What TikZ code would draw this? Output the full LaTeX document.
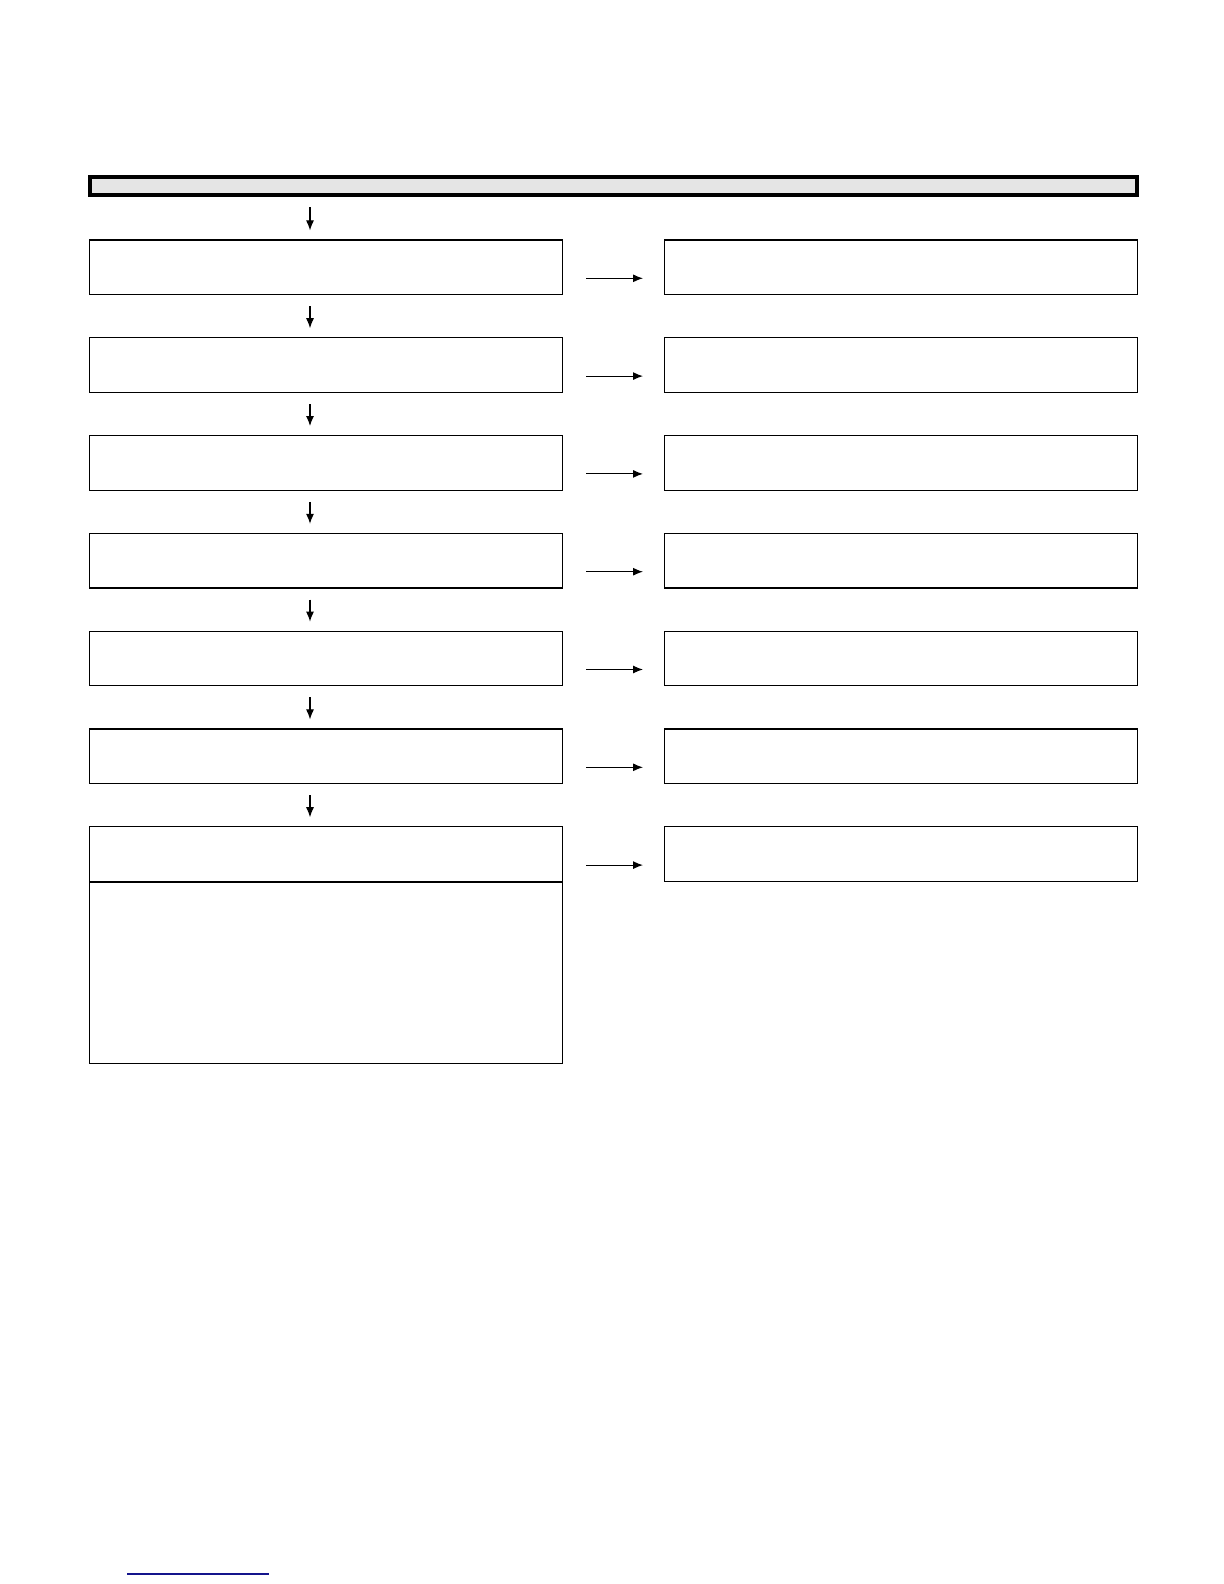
\documentclass[tikz,border=0pt]{standalone}
\usetikzlibrary{arrows.meta}
\begin{document}
\begin{tikzpicture}[x=0.5pt,y=-0.5pt,
  stepbox/.style={draw=black,line width=0.6pt,minimum width=236.5pt,minimum height=27.3pt,inner sep=0pt,anchor=north west},
  flow/.style={draw=black,line width=0.55pt,-{Latex[length=5pt,width=4pt]}}]
\useasboundingbox (0,0) rectangle (1224,1584);
\fill[white] (0,0) rectangle (1224,1584);
% header bar
\node[draw=black,fill=black!10,line width=2pt,minimum width=523.5pt,minimum height=9pt,inner sep=0pt,anchor=north west] (hdr) at (88,174.5) {};
% boxes
\foreach \i/\y in {1/239.4,2/337.2,3/435,4/532.8,5/630.6,6/728.4,7/826.2}{
  \node[stepbox] (L\i) at (89,\y) {};
  \node[stepbox] (R\i) at (664,\y) {};
}
% extension of last left box
\node[draw=black,line width=0.6pt,minimum width=236.5pt,minimum height=90.5pt,inner sep=0pt,anchor=north] (L7x) at (L7.south) {};
% down arrows
\coordinate (d0) at (310,207);
\draw[flow] (d0) -- ([yshift=4.5pt]d0 |- L1.north);
\foreach \a/\b in {1/2,2/3,3/4,4/5,5/6,6/7}{
  \draw[flow] ([yshift=-5.5pt]L\a.south -| d0) -- ([yshift=4.5pt]L\b.north -| d0);
}
% right arrows
\foreach \i in {1,...,7}{
  \draw[flow] ([xshift=11.5pt,yshift=-5.5pt]L\i.east) -- ([xshift=-10.5pt,yshift=-5.5pt]R\i.west);
}
% bottom blue rule
\coordinate (b1) at (127,1574);
\coordinate (b2) at (269,1574);
\draw[draw={rgb,255:red,20;green,20;blue,140},line width=0.6pt] (b1) -- (b2);
\end{tikzpicture}
\end{document}
